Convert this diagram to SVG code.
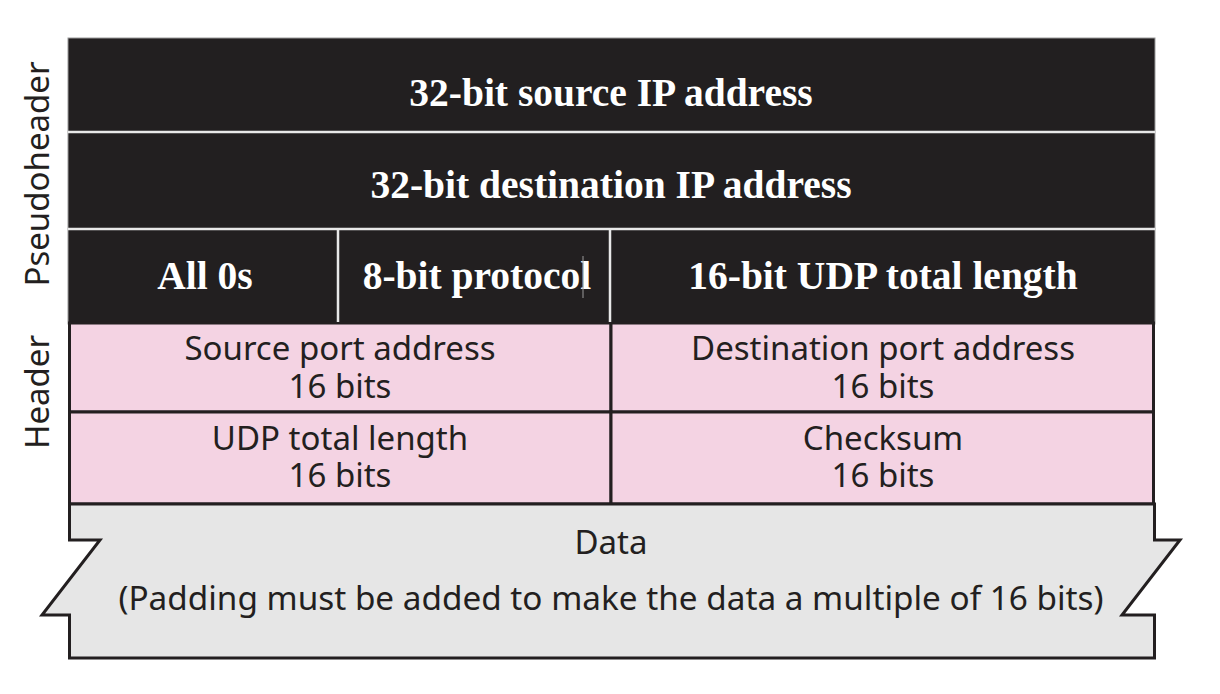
<svg xmlns="http://www.w3.org/2000/svg" width="1220" height="694" viewBox="0 0 1220 694">
<style>
.blk{fill:#221f20}
.pink{fill:#f4d3e3;stroke:#231f20;stroke-width:3}
.wl{stroke:#e8e8e8;stroke-width:2.5}
.bt{font-family:"Liberation Serif",serif;font-weight:bold;font-size:39.5px;fill:#ffffff;text-anchor:middle}
.st{font-family:"Noto Sans",sans-serif;font-size:33px;fill:#231f20;text-anchor:middle}
.side{font-family:"Noto Sans",sans-serif;font-size:33px;fill:#231f20;text-anchor:middle}
</style>
<rect width="1220" height="694" fill="#ffffff"/>
<g id="pseudoheader-label"><text class="side" transform="translate(49,174) rotate(-90)">Pseudoheader</text></g>
<g id="header-label"><text class="side" transform="translate(49,392) rotate(-90)">Header</text></g>
<g id="pseudoheader">
<rect class="blk" x="68" y="38" width="1087" height="286"/>
<rect x="68" y="38" width="1087" height="286" fill="none" stroke="#9a9a9a" stroke-width="1"/>
</g>
<g id="src-ip"><text class="bt" x="611" y="106">32-bit source IP address</text></g>
<g id="dst-ip"><text class="bt" x="611" y="198">32-bit destination IP address</text></g>
<g id="all0"><text class="bt" x="205" y="289">All 0s</text></g>
<g id="proto"><text class="bt" x="477" y="289">8-bit protocol</text><line x1="583" y1="256" x2="583" y2="298" stroke="#9a9a9a" stroke-width="1"/></g>
<g id="udplen-ph"><text class="bt" x="883" y="289">16-bit UDP total length</text></g>
<g id="src-port"><rect class="pink" x="69.5" y="323" width="541.5" height="89"/><text class="st" x="340" y="360">Source port address</text><text class="st" x="340" y="398">16 bits</text></g>
<g id="dst-port"><rect class="pink" x="611" y="323" width="542.5" height="89"/><text class="st" x="883" y="360">Destination port address</text><text class="st" x="883" y="398">16 bits</text></g>
<g id="udp-len"><rect class="pink" x="69.5" y="412" width="541.5" height="92"/><text class="st" x="340" y="450">UDP total length</text><text class="st" x="340" y="487">16 bits</text></g>
<g id="checksum"><rect class="pink" x="611" y="412" width="542.5" height="92"/><text class="st" x="883" y="450">Checksum</text><text class="st" x="883" y="487">16 bits</text></g>
<g id="data">
<path d="M69.5,504 H1154.5 V540 H1180 L1122,615 H1154.5 V658 H69.5 V615 H42 L100,540 H69.5 Z" fill="#e6e6e6" stroke="#231f20" stroke-width="3"/>
<text class="st" x="611" y="554">Data</text>
<text class="st" x="611" y="610" style="font-size:33.3px">(Padding must be added to make the data a multiple of 16 bits)</text>
</g>
<g id="connectors">
<line class="wl" x1="68" y1="132" x2="1155" y2="132"/>
<line class="wl" x1="68" y1="229" x2="1155" y2="229"/>
<line class="wl" x1="338" y1="229" x2="338" y2="322"/>
<line class="wl" x1="610" y1="229" x2="610" y2="322"/>
</g>
</svg>
